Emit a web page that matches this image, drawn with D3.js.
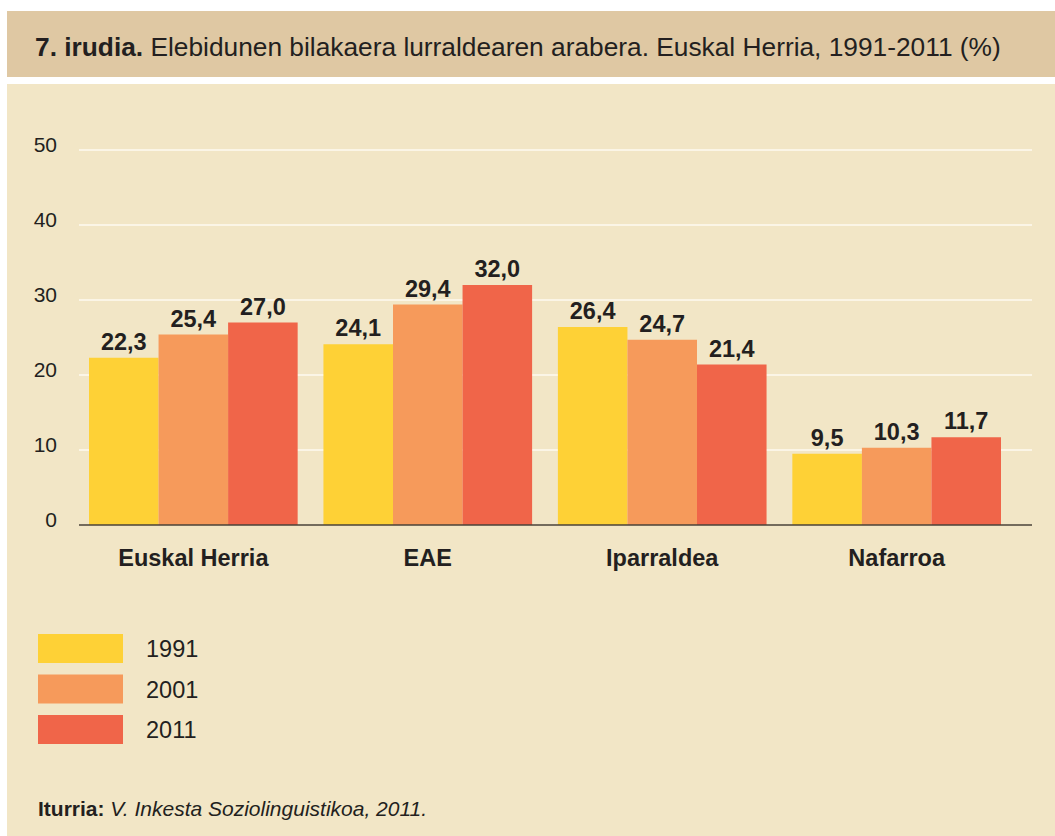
<!DOCTYPE html>
<meta charset="utf-8">
<script src="https://d3js.org/d3.v7.min.js"></script>
<title>D3</title>
<style>
  body { margin: 0; background: #fff; }
  text { font-family: "Liberation Sans", Arial, sans-serif; fill: #231f20; }
</style>
<body>
<script>
var categories = ["Euskal Herria", "EAE", "Iparraldea", "Nafarroa"];
var years = ["1991", "2001", "2011"];
var values1991 = [22.3, 24.1, 26.4, 9.5];
var values2001 = [25.4, 29.4, 24.7, 10.3];
var values2011 = [27.0, 32.0, 21.4, 11.7];
var yTicks = [0, 10, 20, 30, 40, 50];
var colors = ["#fed136", "#f69a5b", "#f06549"];

var series = [values1991, values2001, values2011];
var fmt = function(v){ return v.toFixed(1).replace(".", ","); };

var svg = d3.select("body").append("svg")
    .attr("width", 1055)
    .attr("height", 836);

// header band and panel
svg.append("rect").attr("x", 7).attr("y", 11).attr("width", 1048).attr("height", 66).attr("fill", "#dfc8a3");
svg.append("rect").attr("x", 7).attr("y", 84).attr("width", 1048).attr("height", 752).attr("fill", "#f2e6c6");

var title = svg.append("text")
    .attr("x", 35).attr("y", 56)
    .style("font-size", "26.3px");
title.append("tspan").style("font-weight", "bold").text("7. irudia.");
title.append("tspan").text(" Elebidunen bilakaera lurraldearen arabera. Euskal Herria, 1991-2011 (%)");

var yScale = d3.scaleLinear().domain([0, 50]).range([525, 150]);
var xScale = d3.scaleBand().domain(categories).range([89, 1001]).paddingInner(0.11).paddingOuter(0);
var xSub = d3.scaleBand().domain(years).range([0, xScale.bandwidth()]);

// gridlines
svg.append("g").selectAll("line").data(yTicks.slice(1)).enter().append("line")
    .attr("x1", 79).attr("x2", 1032)
    .attr("y1", function(d){ return yScale(d); })
    .attr("y2", function(d){ return yScale(d); })
    .attr("stroke", "#fbf5e6").attr("stroke-width", 2);

var yAxis = d3.axisLeft(yScale).tickValues(yTicks).tickSize(0).tickPadding(0);
var yAxisG = svg.append("g").attr("transform", "translate(57,0)").call(yAxis);
yAxisG.select(".domain").remove();
yAxisG.selectAll("text").style("font-size", "21px").attr("dy", "0.05em").attr("fill", "#231f20");

// bars
var groups = svg.append("g").selectAll("g").data(categories).enter().append("g")
    .attr("transform", function(d){ return "translate(" + xScale(d) + ",0)"; });

years.forEach(function(yr, j){
    groups.append("rect")
        .attr("x", xSub(yr))
        .attr("width", xSub.bandwidth())
        .attr("y", function(d, i){ return yScale(series[j][i]); })
        .attr("height", function(d, i){ return yScale(0) - yScale(series[j][i]); })
        .attr("fill", colors[j]);
    groups.append("text")
        .attr("x", xSub(yr) + xSub.bandwidth() / 2)
        .attr("y", function(d, i){ return yScale(series[j][i]) - 8; })
        .attr("text-anchor", "middle")
        .style("font-size", "23.5px").style("font-weight", "bold")
        .text(function(d, i){ return fmt(series[j][i]); });
});

// baseline
svg.append("line").attr("x1", 79).attr("x2", 1032).attr("y1", yScale(0)).attr("y2", yScale(0))
    .attr("stroke", "#4a4238").attr("stroke-width", 1.5);

var xAxis = d3.axisBottom(xScale).tickSize(0).tickPadding(0);
var xAxisG = svg.append("g").attr("transform", "translate(0,566)").call(xAxis);
xAxisG.select(".domain").remove();
xAxisG.selectAll("text").attr("dy", 0).style("font-size", "23.5px").style("font-weight", "bold").attr("fill", "#231f20");

// legend
var legend = svg.append("g").selectAll("g").data(years).enter().append("g")
    .attr("transform", function(d, i){ return "translate(38," + (634 + i * 40.5) + ")"; });
legend.append("rect").attr("width", 85).attr("height", 29).attr("fill", function(d, i){ return colors[i]; });
legend.append("text").attr("x", 108).attr("y", 23).style("font-size", "23.5px").text(function(d){ return d; });

// source
var src = svg.append("text").attr("x", 38).attr("y", 816).style("font-size", "21px");
src.append("tspan").style("font-weight", "bold").text("Iturria:");
src.append("tspan").style("font-style", "italic").text(" V. Inkesta Soziolinguistikoa, 2011.");
</script>
</body>
